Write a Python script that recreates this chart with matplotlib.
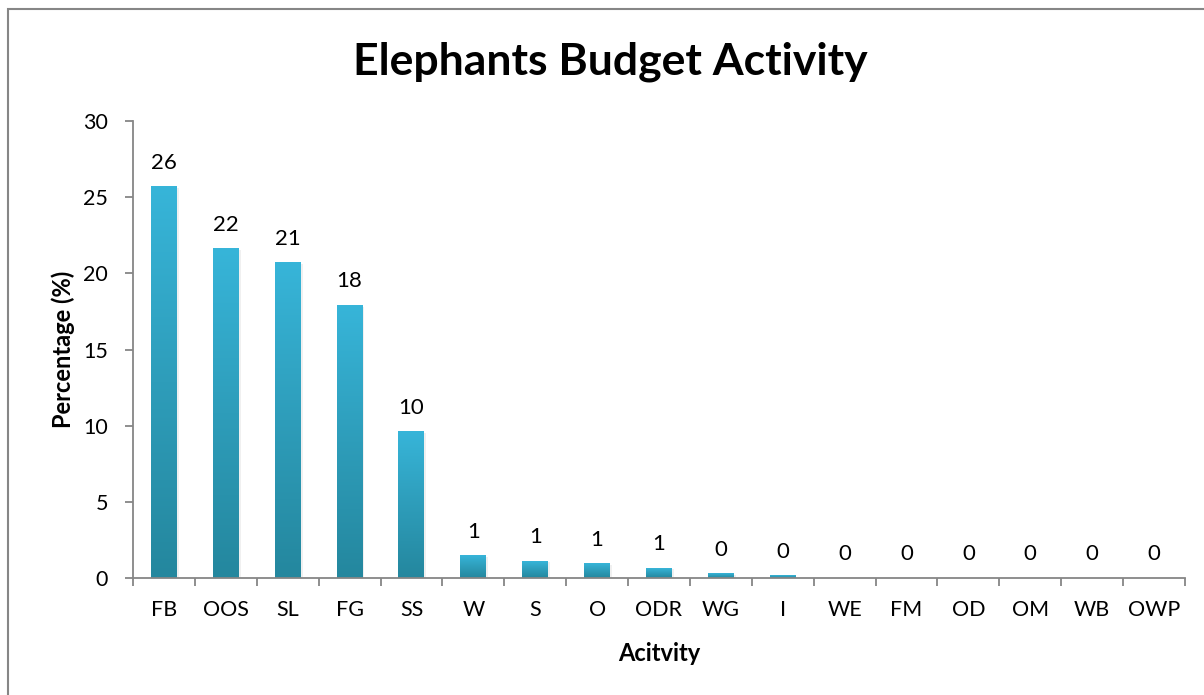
import numpy as np
import matplotlib
matplotlib.use("Agg")
import matplotlib.pyplot as plt
from matplotlib.colors import LinearSegmentedColormap
from matplotlib.patches import Rectangle

plt.rcParams['font.family'] = ['Lato', 'DejaVu Sans']

categories = ["FB", "OOS", "SL", "FG", "SS", "W", "S", "O", "ODR", "WG", "I",
              "WE", "FM", "OD", "OM", "WB", "OWP"]
percentages = [25.7, 21.6, 20.7, 17.9, 9.6, 1.45, 1.1, 0.95, 0.65, 0.3, 0.15,
               0.0, 0.0, 0.0, 0.0, 0.0, 0.0]
y_ticks = [0, 5, 10, 15, 20, 25, 30]

title = "Elephants Budget Activity"
x_label = "Acitvity"
y_label = "Percentage (%)"

axis_grey = "#868686"
bar_cmap = LinearSegmentedColormap.from_list("barfill", ["#24879E", "#2E9DBA", "#37B5D9"])

fig = plt.figure(figsize=(12.04, 6.95), dpi=100)
fig.patch.set_facecolor("white")

# outer chart border
fig.add_artist(Rectangle((8 / 1204, -0.1), 1.2, 1 - 9 / 695 + 0.1,
                         transform=fig.transFigure, fill=False,
                         edgecolor=axis_grey, linewidth=1.5))

ax = fig.add_axes([133 / 1204, 1 - 578 / 695, (1185 - 133) / 1204, (578 - 121) / 695])
n = len(categories)
x = np.arange(n)
bar_w = 0.42

ax.set_xlim(-0.5, n - 0.5)
ax.set_ylim(0, 30)

grad = np.linspace(0, 1, 256).reshape(-1, 1)
for xi, v in zip(x, percentages):
    if v <= 0:
        continue
    # soft shadow
    ax.add_patch(Rectangle((xi - bar_w / 2 + 0.03, 0), bar_w, v - 0.08,
                           facecolor="#000000", alpha=0.06, edgecolor="none", zorder=1))
    ax.imshow(grad, extent=[xi - bar_w / 2, xi + bar_w / 2, 0, v], origin="lower",
              cmap=bar_cmap, aspect="auto", zorder=2, interpolation="bilinear")

for xi, v in zip(x, percentages):
    ax.annotate(f"{v:.0f}", (xi, v), xytext=(0, 10), textcoords="offset points",
                ha="center", va="bottom", fontsize=16, color="black")

ax.set_xlim(-0.5, n - 0.5)
ax.set_ylim(0, 30)
ax.set_aspect("auto")

for s in ("top", "right"):
    ax.spines[s].set_visible(False)
for s in ("left", "bottom"):
    ax.spines[s].set_color(axis_grey)
    ax.spines[s].set_linewidth(1.3)

ax.set_yticks(y_ticks)
ax.set_yticklabels([str(t) for t in y_ticks], fontsize=15.5)
ax.tick_params(axis="y", direction="out", length=6, width=1.3, color=axis_grey, pad=12)

ax.set_xticks(x)
ax.set_xticklabels(categories, fontsize=15.5)
ax.tick_params(axis="x", which="major", length=0, pad=16)
ax.set_xticks(np.arange(n + 1) - 0.5, minor=True)
ax.tick_params(axis="x", which="minor", direction="out", length=6, width=1.3, color=axis_grey)

ax.set_xlabel(x_label, fontsize=17, fontweight="bold", labelpad=16)
ax.set_ylabel(y_label, fontsize=17, fontweight="bold", labelpad=6)

fig.text(610 / 1204, 1 - 62 / 695, title, ha="center", va="center",
         fontsize=32, fontweight="bold")

fig.savefig("out.png", dpi=100)
